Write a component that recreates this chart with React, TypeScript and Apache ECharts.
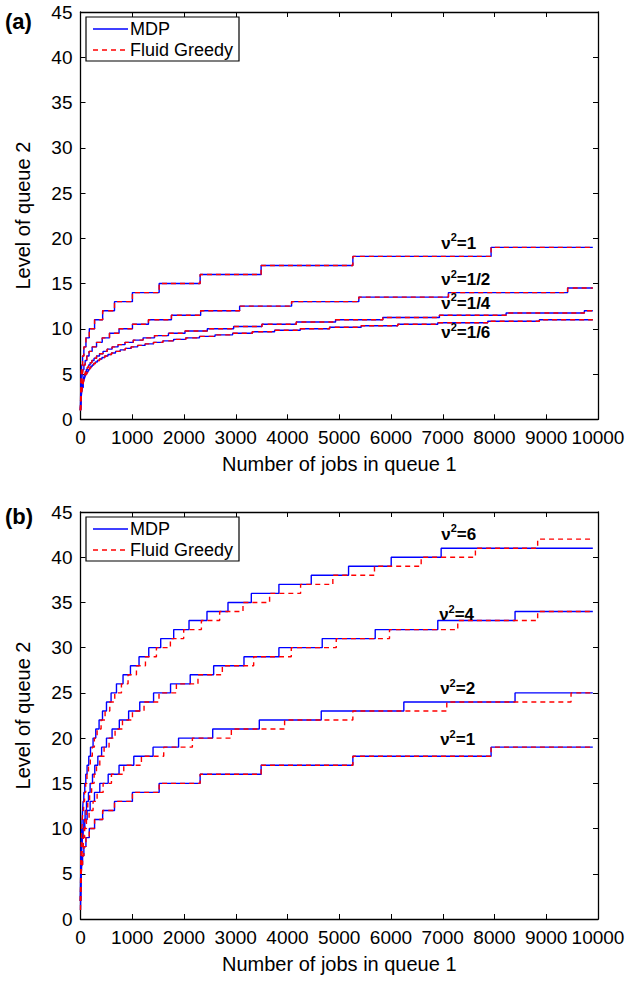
import React, { useEffect, useRef } from 'react';
import * as echarts from 'echarts';

const FONT = "'Liberation Sans', Arial, Helvetica, sans-serif";

// ---------- axes ----------
const X_MIN = 0;
const X_MAX = 10000;
const X_INTERVAL = 1000;
const Y_MIN = 0;
const Y_MAX = 45;
const Y_INTERVAL = 5;
const X_END = 9900; // where every staircase stops

const X_NAME = 'Number of jobs in queue 1';
const Y_NAME = 'Level of queue 2';
const LEGEND_NAMES = ['MDP', 'Fluid Greedy'];

// ---------- panel (a): [x where level starts, level] ----------
const A_NU1: number[][] = [[0,1],[2,2],[4,3],[8,4],[14,5],[24,6],[40,7],[65,8],[105,9],[170,10],[272,11],[428,12],[657,13],[1003,14],[1520,15],[2312,16],[3490,17],[5263,18],[7934,19]];
const A_NU_HALF: number[][] = [[0,1],[1,1.5],[3,2],[5,2.5],[8,3],[12,3.5],[18,4],[25,4.5],[35,5],[48,5.5],[66,6],[90,6.5],[122,7],[165,7.5],[225,8],[310,8.5],[420,9],[560,9.5],[745,10],[1004,10.5],[1313,11],[1757,11.5],[2322,12],[3075,12.5],[4079,13],[5378,13.5],[7110,14],[9413,14.5]];
const A_NU_QUARTER: number[][] = [[0,1],[3,1.5],[6,2],[10,2.5],[16,3],[26,3.5],[40,4],[48,4.25],[57,4.5],[68,4.75],[80,5],[95,5.25],[112,5.5],[133,5.75],[157,6],[186,6.25],[220,6.5],[262,6.75],[310,7],[368,7.25],[435,7.5],[515,7.75],[610,8],[725,8.25],[860,8.5],[1020,8.75],[1210,9],[1430,9.25],[1700,9.5],[2020,9.75],[2450,10],[2959,10.25],[3506,10.5],[4170,10.75],[4929,11],[5842,11.25],[6936,11.5],[8224,11.75],[9736,12]];
const A_NU_SIXTH: number[][] = [[0,1],[4,1.5],[8,2],[14,2.5],[23,3],[35,3.5],[52,4],[59,4.167],[66,4.333],[75,4.5],[85,4.667],[96,4.833],[108,5],[122,5.167],[138,5.333],[156,5.5],[176,5.667],[199,5.833],[225,6],[255,6.167],[288,6.333],[325,6.5],[367,6.667],[415,6.833],[469,7],[530,7.167],[599,7.333],[677,7.5],[765,7.667],[865,7.833],[977,8],[1104,8.167],[1248,8.333],[1410,8.5],[1593,8.667],[1800,8.833],[2035,9],[2300,9.167],[2600,9.333],[2940,9.5],[3320,9.667],[3751,9.833],[4247,10],[4813,10.167],[5424,10.333],[6131,10.5],[6904,10.667],[7869,10.833],[8867,11]];

// ---------- panel (b) ----------
const B_NU1: number[][] = A_NU1;
const B_NU2_MDP: number[][] = [[0,2],[1,3],[2,4],[4,5],[7,6],[12,7],[20,8],[32,9],[50,10],[83,11],[128,12],[186,13],[270,14],[373,15],[535,16],[745,17],[1030,18],[1402,19],[1895,20],[2555,21],[3455,22],[4652,23],[6248,24],[8397,25]];
const B_NU2_FG: number[][] = [[0,2],[2,3],[4,4],[8,5],[14,6],[23,7],[36,8],[55,9],[80,10],[115,11],[166,12],[243,13],[321,14],[437,15],[598,16],[836,17],[1177,18],[1608,19],[2162,20],[2915,21],[3944,22],[5263,23],[7078,24],[9479,25]];
const B_NU4_MDP: number[][] = [[0,2],[2,3],[5,4],[8,5],[12,6],[18,7],[26,8],[36,9],[48,10],[64,11],[89,12],[116,13],[154,14],[186,15],[232,16],[276,17],[335,18],[408,19],[502,20],[610,21],[750,22],[930,23],[1145,24],[1412,25],[1740,26],[2120,27],[2573,28],[3159,29],[3834,30],[4671,31],[5695,32],[6904,33],[8397,34]];
const B_NU4_FG: number[][] = [[0,2],[3,3],[6,4],[10,5],[16,6],[24,7],[34,8],[48,9],[64,10],[85,11],[110,12],[140,13],[176,14],[215,15],[263,16],[309,17],[373,18],[456,19],[552,20],[668,21],[811,22],[1004,23],[1228,24],[1517,25],[1853,26],[2270,27],[2741,28],[3346,29],[4073,30],[4942,31],[5971,32],[7290,33],[8834,34]];
const B_NU6_MDP: number[][] = [[0,2],[1,3],[2,4],[4,5],[6,6],[9,7],[13,8],[18,9],[24,10],[31,11],[40,12],[50,13],[64,14],[83,15],[102,16],[127,17],[160,18],[193,19],[243,20],[295,21],[359,22],[425,23],[502,24],[591,25],[695,26],[822,27],[965,28],[1131,29],[1319,30],[1550,31],[1801,32],[2097,33],[2444,34],[2850,35],[3301,36],[3834,37],[4459,38],[5180,39],[6004,40],[6969,41]];
const B_NU6_FG: number[][] = [[0,2],[1,3],[2,4],[4,5],[6,6],[10,7],[14,8],[20,9],[27,10],[35,11],[46,12],[60,13],[78,14],[100,15],[125,16],[154,17],[190,18],[228,19],[268,20],[321,21],[398,22],[475,23],[566,24],[662,25],[791,26],[919,27],[1081,28],[1255,29],[1467,30],[1737,31],[1994,32],[2336,33],[2689,34],[3140,35],[3654,36],[4253,37],[4876,38],[5681,39],[6583,40],[7631,41],[8834,42]];

// curve labels: [value text, x, y (bottom of text)]
const A_LABELS: [string, number, number][] = [['1', 6970, 18.5], ['1/2', 6970, 14.5], ['1/4', 6970, 11.9], ['1/6', 6970, 8.6]];
const B_LABELS: [string, number, number][] = [['6', 6970, 41.6], ['4', 6930, 32.7], ['2', 6950, 24.5], ['1', 6950, 18.9]];

const BLUE = '#0000ff';
const RED = '#ff0000';
const DASH = [5, 4];

function withEnd(d: number[][]) {
  return [...d, [X_END, d[d.length - 1][1]]];
}

const axisLineStyle = { show: true, onZero: false, lineStyle: { color: '#000', width: 1.3 } };
const tickStyle = { show: true, inside: true, length: 5, lineStyle: { color: '#000', width: 1 } };

function xAxes(gridIndex: number) {
  const base = {
    type: 'value', gridIndex, min: X_MIN, max: X_MAX, interval: X_INTERVAL,
    axisLine: axisLineStyle, axisTick: tickStyle, splitLine: { show: false },
  };
  return [
    {
      ...base, position: 'bottom', name: X_NAME, nameLocation: 'middle', nameGap: 35,
      nameTextStyle: { fontSize: 20, color: '#000', fontFamily: FONT },
      axisLabel: { fontSize: 19, color: '#000', margin: 9, fontFamily: FONT, formatter: (v: number) => String(v) },
    },
    { ...base, position: 'top', axisLabel: { show: false } },
  ];
}

function yAxes(gridIndex: number) {
  const base = {
    type: 'value', gridIndex, min: Y_MIN, max: Y_MAX, interval: Y_INTERVAL,
    axisLine: axisLineStyle, axisTick: tickStyle, splitLine: { show: false },
  };
  return [
    {
      ...base, position: 'left', name: Y_NAME, nameLocation: 'middle', nameGap: 48, nameRotate: 90,
      nameTextStyle: { fontSize: 20, color: '#000', fontFamily: FONT },
      axisLabel: { fontSize: 19, color: '#000', margin: 8, fontFamily: FONT },
    },
    { ...base, position: 'right', axisLabel: { show: false } },
  ];
}

function line(name: string, data: number[][], axisIdx: number, red: boolean) {
  return {
    type: 'line', name, data: withEnd(data), xAxisIndex: axisIdx, yAxisIndex: axisIdx,
    step: 'end', symbol: 'none', silent: true, animation: false,
    lineStyle: red ? { color: RED, width: 1.4, type: DASH } : { color: BLUE, width: 1.4 },
    itemStyle: { color: red ? RED : BLUE },
    z: red ? 3 : 2,
  };
}

function legendGraphic(top: number) {
  const left = 86;
  const rowY = [top + 12, top + 33];
  return {
    type: 'group', z: 20,
    children: [
      { type: 'rect', shape: { x: left, y: top, width: 153, height: 44 }, style: { fill: '#fff', stroke: '#000', lineWidth: 1.2 } },
      { type: 'line', shape: { x1: left + 7, y1: rowY[0], x2: left + 42, y2: rowY[0] }, style: { stroke: BLUE, lineWidth: 1.4 } },
      { type: 'line', shape: { x1: left + 7, y1: rowY[1], x2: left + 42, y2: rowY[1] }, style: { stroke: RED, lineWidth: 1.4, lineDash: DASH } },
      { type: 'text', x: left + 44, y: rowY[0], style: { text: LEGEND_NAMES[0], fontSize: 18, fontFamily: FONT, fill: '#000', verticalAlign: 'middle' } },
      { type: 'text', x: left + 44, y: rowY[1], style: { text: LEGEND_NAMES[1], fontSize: 18, fontFamily: FONT, fill: '#000', verticalAlign: 'middle' } },
    ],
  };
}

export default function App() {
  const ref = useRef<HTMLDivElement>(null);
  useEffect(() => {
    document.body.style.margin = '0';
    const chart = echarts.init(ref.current!, null, { renderer: 'svg' });
    const A = [A_NU1, A_NU_HALF, A_NU_QUARTER, A_NU_SIXTH];
    const series: any[] = [];
    A.forEach((d) => series.push(line('MDP', d, 0, false)));
    A.forEach((d) => series.push(line('Fluid Greedy', d, 0, true)));
    const BM = [B_NU6_MDP, B_NU4_MDP, B_NU2_MDP, B_NU1];
    const BF = [B_NU6_FG, B_NU4_FG, B_NU2_FG, B_NU1];
    BM.forEach((d) => series.push(line('MDP', d, 2, false)));
    BF.forEach((d) => series.push(line('Fluid Greedy', d, 2, true)));

    chart.setOption({
      animation: false,
      backgroundColor: '#fff',
      grid: [
        { left: 80.5, right: 28, top: 12, height: 407.3, outerBoundsMode: 'none' },
        { left: 80.5, right: 28, top: 512, height: 407, outerBoundsMode: 'none' },
      ],
      xAxis: [...xAxes(0), ...xAxes(1)],
      yAxis: [...yAxes(0), ...yAxes(1)],
      series,
    });

    const rich = {
      n: { fontSize: 17, fontWeight: 'bold', fontFamily: FONT, fill: '#000', verticalAlign: 'bottom', lineHeight: 20 },
      s: { fontSize: 11, fontWeight: 'bold', fontFamily: FONT, fill: '#000', verticalAlign: 'top', lineHeight: 12 },
    };
    const graphics: any[] = [];
    const addLabels = (labels: [string, number, number][], gridIndex: number) => {
      labels.forEach(([v, x, y]) => {
        const p = chart.convertToPixel({ gridIndex }, [x, y]) as number[];
        graphics.push({
          type: 'text', x: p[0], y: p[1], z: 10,
          style: { text: `{n|ν}{s|2}{n|=${v}}`, rich, align: 'left', verticalAlign: 'bottom' },
        });
      });
    };
    addLabels(A_LABELS, 0);
    addLabels(B_LABELS, 1);
    graphics.push(legendGraphic(17));
    graphics.push(legendGraphic(517));
    graphics.push({ type: 'text', x: 5, y: 21, style: { text: '(a)', fontSize: 22, fontWeight: 'bold', fontFamily: FONT, fill: '#000', verticalAlign: 'middle' } });
    graphics.push({ type: 'text', x: 5, y: 516, style: { text: '(b)', fontSize: 22, fontWeight: 'bold', fontFamily: FONT, fill: '#000', verticalAlign: 'middle' } });
    chart.setOption({ graphic: graphics });

    return () => chart.dispose();
  }, []);
  return <div ref={ref} style={{ width: 626, height: 981 }} />;
}
